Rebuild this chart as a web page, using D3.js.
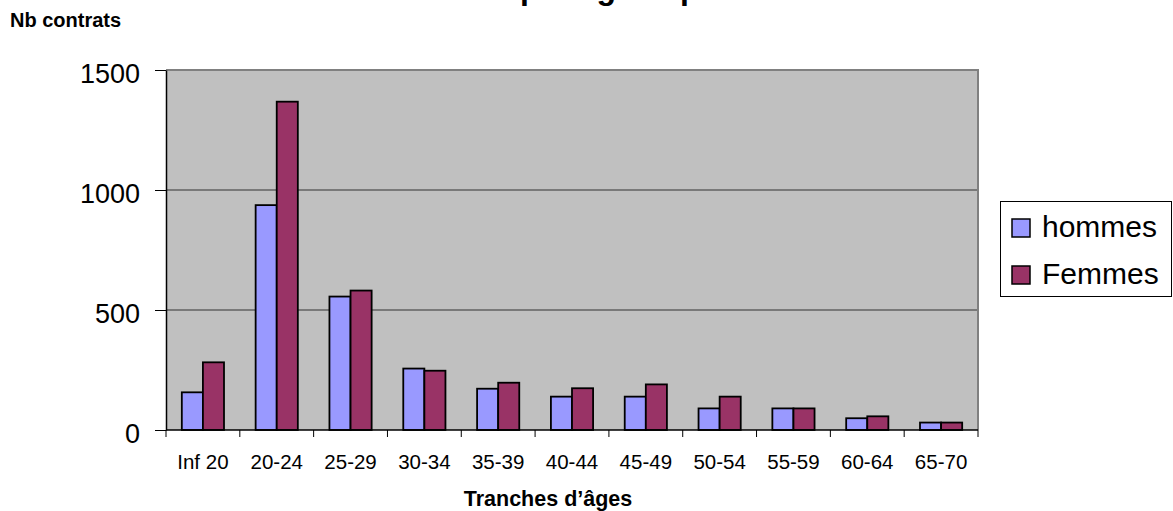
<!DOCTYPE html>
<html>
<head>
<meta charset="utf-8">
<script src="https://cdn.jsdelivr.net/npm/d3@7"></script>
<style>
  body { margin: 0; background: #fff; }
  text { font-family: "Liberation Sans", Arial, sans-serif; }
</style>
</head>
<body>
<div id="chart"></div>
<script>
const categories = ['Inf 20','20-24','25-29','30-34','35-39','40-44','45-49','50-54','55-59','60-64','65-70'];
const hommes = [157, 937, 556, 256, 172, 139, 139, 90, 90, 49, 31];
const femmes = [282, 1368, 581, 247, 197, 174, 190, 139, 90, 57, 31];
const seriesNames = ['hommes', 'Femmes'];
const seriesColors = ['#9999FF', '#993366'];
const yTicks = [0, 500, 1000, 1500];

const width = 1173, height = 511;
const plot = {left: 166, right: 978, top: 70, bottom: 430};

const svg = d3.select('#chart')
    .append('svg')
    .attr('width', width)
    .attr('height', height);

const x = d3.scaleBand()
    .domain(categories)
    .range([plot.left, plot.right]);

const x1 = d3.scaleBand()
    .domain(seriesNames)
    .range([0, x.bandwidth()])
    .paddingOuter(0.75);

const y = d3.scaleLinear()
    .domain([0, 1500])
    .range([plot.bottom, plot.top]);

// plot background
svg.append('rect')
    .attr('x', plot.left)
    .attr('y', plot.top)
    .attr('width', plot.right - plot.left)
    .attr('height', plot.bottom - plot.top)
    .attr('fill', '#C0C0C0');

// grid lines
svg.append('g')
    .selectAll('line')
    .data([500, 1000])
    .join('line')
    .attr('x1', plot.left).attr('x2', plot.right)
    .attr('y1', d => y(d)).attr('y2', d => y(d))
    .attr('stroke', '#333')
    .attr('stroke-width', 1);

// top and right border
svg.append('path')
    .attr('d', `M${plot.left},${y(1500)}H${plot.right}V${plot.bottom}`)
    .attr('fill', 'none')
    .attr('stroke', '#808080')
    .attr('stroke-width', 2);

// bars
const rows = categories.map((c, i) => ({cat: c, values: [hommes[i], femmes[i]]}));
svg.append('g')
    .selectAll('g')
    .data(rows)
    .join('g')
    .attr('transform', d => `translate(${x(d.cat)},0)`)
    .selectAll('rect')
    .data(d => d.values.map((v, j) => ({name: seriesNames[j], value: v, j: j})))
    .join('rect')
    .attr('x', d => x1(d.name))
    .attr('y', d => y(d.value))
    .attr('width', x1.bandwidth())
    .attr('height', d => y(0) - y(d.value))
    .attr('fill', d => seriesColors[d.j])
    .attr('stroke', '#000')
    .attr('stroke-width', 1.8);

// y axis
const yAxis = d3.axisLeft(y)
    .tickValues(yTicks)
    .tickFormat(d3.format('d'))
    .tickSize(11)
    .tickPadding(15)
    .tickSizeOuter(0);
const gy = svg.append('g')
    .attr('transform', `translate(${plot.left},0)`)
    .call(yAxis);
gy.select('.domain').attr('stroke', '#000').attr('stroke-width', 1.5);
gy.selectAll('.tick line').attr('stroke', '#000');
gy.selectAll('.tick text')
    .attr('font-size', 27)
    .attr('fill', '#000')
    .attr('dy', '0.45em')
    .style('font-family', '"Liberation Sans", Arial, sans-serif');

// x axis (labels centred, ticks on category boundaries)
const xAxis = d3.axisBottom(x).tickSize(0).tickPadding(24);
const gx = svg.append('g')
    .attr('transform', `translate(0,${plot.bottom})`)
    .call(xAxis);
gx.select('.domain').remove();
gx.selectAll('.tick text')
    .attr('font-size', 20.5)
    .attr('fill', '#000')
    .style('font-family', '"Liberation Sans", Arial, sans-serif');

const bounds = categories.map(c => x(c)).concat([x.range()[1]]);
svg.append('g')
    .selectAll('line')
    .data(bounds)
    .join('line')
    .attr('x1', d => d).attr('x2', d => d)
    .attr('y1', plot.bottom).attr('y2', plot.bottom + 7)
    .attr('stroke', '#000');
svg.append('line')
    .attr('x1', plot.left).attr('x2', plot.right)
    .attr('y1', plot.bottom).attr('y2', plot.bottom)
    .attr('stroke', '#000')
    .attr('stroke-width', 1.5);

// axis titles
svg.append('text')
    .attr('x', 10)
    .attr('y', 27)
    .attr('font-size', 20)
    .attr('font-weight', 'bold')
    .text('Nb contrats');

svg.append('text')
    .attr('x', 548)
    .attr('y', 506)
    .attr('text-anchor', 'middle')
    .attr('font-size', 21.5)
    .attr('font-weight', 'bold')
    .text('Tranches d\u2019âges');

// title, cut off at the top of the picture as in the original
const title = svg.append('text')
    .attr('y', -1.5)
    .attr('font-size', 32)
    .attr('font-weight', 'bold')
    .text('Contrats par âge et par sexe');
const prefix = title.node().getSubStringLength(0, 9);
title.attr('x', 520 - prefix);

// legend
const legend = svg.append('g');
legend.append('rect')
    .attr('x', 1000.5).attr('y', 201.5)
    .attr('width', 171).attr('height', 95)
    .attr('fill', '#fff')
    .attr('stroke', '#000');
const items = legend.selectAll('g.item')
    .data(seriesNames)
    .join('g')
    .attr('class', 'item')
    .attr('transform', (d, i) => `translate(1012,${219 + i * 47})`);
items.append('rect')
    .attr('width', 18).attr('height', 18)
    .attr('fill', (d, i) => seriesColors[i])
    .attr('stroke', '#000')
    .attr('stroke-width', 1.5);
items.append('text')
    .attr('x', 30)
    .attr('y', 18)
    .attr('font-size', 30)
    .text(d => d);
</script>
</body>
</html>
